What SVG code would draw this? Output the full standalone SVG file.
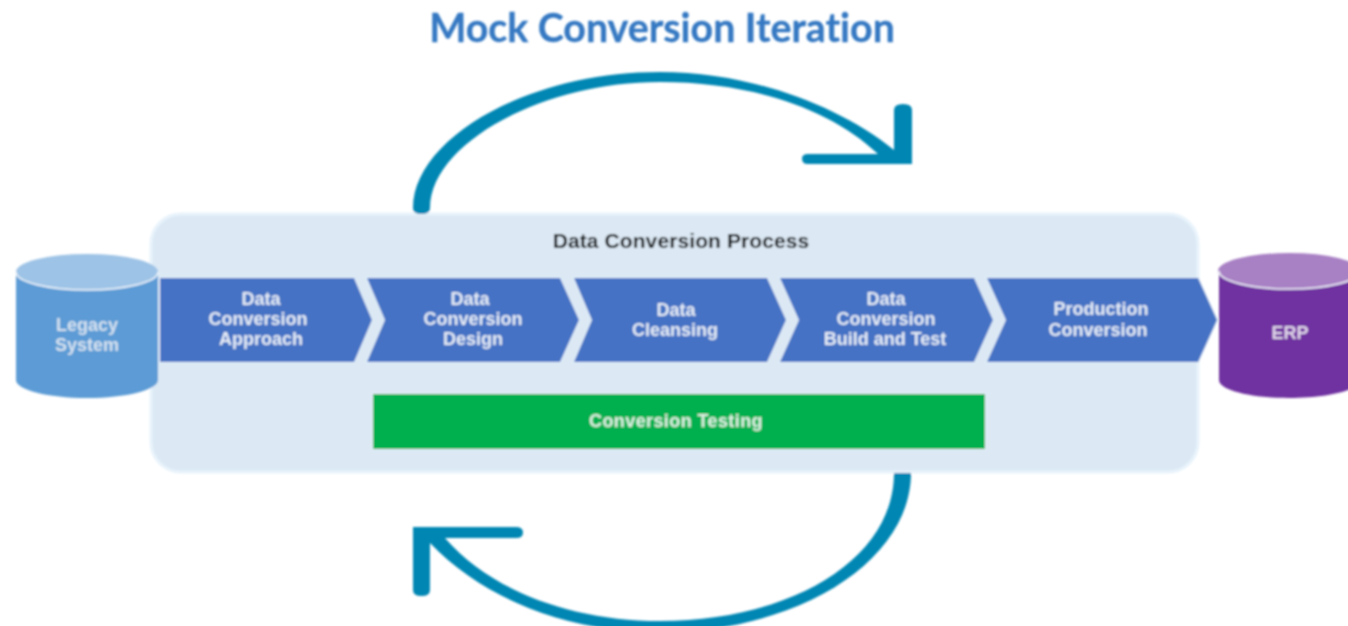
<svg xmlns="http://www.w3.org/2000/svg" width="1348" height="626" viewBox="0 0 1348 626">
<style>
text{font-family:"Liberation Sans",Arial,sans-serif;font-weight:700;text-anchor:middle;font-size:18px;fill:#e6edf7}
.chev{fill:#4472c4;stroke:#e4eff9;stroke-width:2;paint-order:stroke}
.arc{fill:#0086b3}
.hl{fill:none;stroke:#f2f7fc;stroke-width:1.5}
</style>
<defs><filter id="soft" x="-2%" y="-2%" width="104%" height="104%"><feGaussianBlur stdDeviation="0.8"/></filter></defs>
<rect width="1348" height="626" fill="#fff"/>
<g filter="url(#soft)">
<text id="title" x="662" y="42" style="font-family:Lato,'Liberation Sans',sans-serif;font-size:39.3px;font-variant-ligatures:none;fill:#3478c2;stroke:#3478c2;stroke-width:.3px">Mock Conversion Iteration</text>
<g id="panel"><rect x="151" y="214" width="1047" height="258" rx="30" fill="#dce9f5" stroke="#e8f3fb" stroke-width="3"/>
<text x="681" y="248" style="fill:#000;font-size:21px;letter-spacing:.1px">Data Conversion Process</text></g>
<g id="connectors">
<path class="arc" d="M413 208C413 140 525 72 660 72C750 72 838 105 894 150V110Q894 104 903 104Q912 104 912 110V164H808Q802 164 802 158.500Q802 154 808 154H878C830 108 750 82 660 82C540 82 430 145 430 208Q430 214 421.500 214Q413 214 413 208Z"/>
<path class="arc" d="M894 473H911C911 560 800 632 660 632C560 632 480 595 430 543V590Q430 596 421.500 596Q413 596 413 590V527H516Q523 527 523 532.500Q523 538 516 538H445C490 590 570 621 660 621C790 621 894 560 894 473Z"/>
</g>
<g id="legacy"><path d="M16 272V380C16 390 48 398 87 398S158 390 158 380V272Z" fill="#5b9bd5"/><ellipse cx="87" cy="272" rx="71" ry="18" fill="#9dc3e6"/><path class="hl" d="M16 272C16 282 48 290 87 290S158 282 158 272"/>
<text x="87" y="331" style="fill:#d5e2f0">Legacy</text><text x="87" y="351" style="fill:#d5e2f0">System</text></g>
<g id="erp"><path d="M1219 271V380C1219 390 1250 398 1289 398S1360 390 1360 380V271Z" fill="#7030a0"/><ellipse cx="1289" cy="271" rx="71" ry="18" fill="#a880c4"/><path class="hl" d="M1219 271C1219 281 1250 289 1289 289S1360 281 1360 271"/>
<text x="1290" y="339" style="fill:#e0d5ea">ERP</text></g>
<g id="step1"><polygon class="chev" points="160,278 354,278 372,320 354,362 160,362"/><text x="261" y="305">Data</text><text x="258" y="325">Conversion</text><text x="261" y="345">Approach</text></g>
<g id="step2"><polygon class="chev" points="367,278 560,278 579,320 560,362 367,362 385,320"/><text x="470" y="305">Data</text><text x="473" y="325">Conversion</text><text x="473" y="345">Design</text></g>
<g id="step3"><polygon class="chev" points="574,278 767,278 786,320 767,362 574,362 592,320"/><text x="676" y="316">Data</text><text x="675" y="336">Cleansing</text></g>
<g id="step4"><polygon class="chev" points="780,278 974,278 993,320 974,362 780,362 799,320"/><text x="886" y="305">Data</text><text x="886" y="325">Conversion</text><text x="885" y="345">Build and Test</text></g>
<g id="step5"><polygon class="chev" points="987,278 1198,278 1217,320 1198,362 987,362 1006,320"/><text x="1101" y="315">Production</text><text x="1098" y="336">Conversion</text></g>
<g id="testing"><rect x="373" y="394" width="612" height="55" fill="#00b050" stroke="#e4eff9" stroke-width="2" paint-order="stroke"/><text x="676" y="427" style="fill:#dff2e4;letter-spacing:.4px">Conversion Testing</text></g>
</g>
</svg>
